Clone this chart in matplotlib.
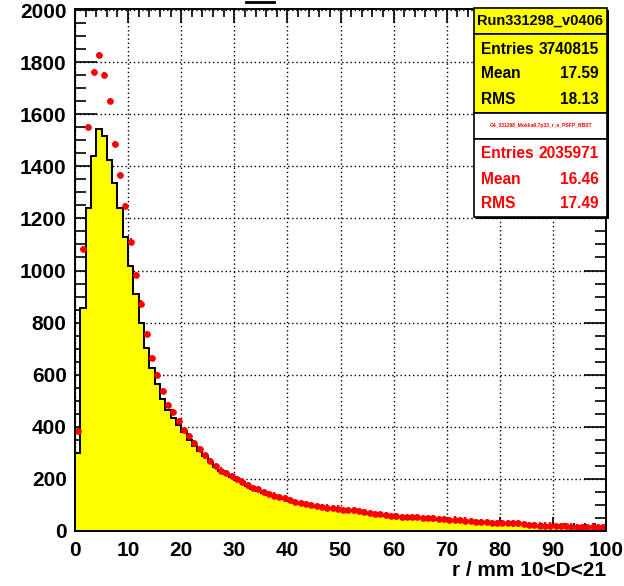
import numpy as np
import matplotlib
matplotlib.use("Agg")
import matplotlib.pyplot as plt
from matplotlib.patches import Rectangle

plt.rcParams['font.family'] = ['Liberation Sans', 'DejaVu Sans']

# r bins of 1 mm from 0 to 100
bin_edges = np.arange(0, 101, 1)

# reference histogram (yellow)
ref_counts = [
    300, 855, 1240, 1440, 1545, 1515, 1425, 1335, 1239, 1128,
    1016, 908, 800, 701, 626, 565, 508, 465, 432, 407,
    381, 349, 326, 307, 288, 264, 247, 231, 219, 207,
    196, 187, 173, 162, 155, 146, 139, 133, 127, 121,
    116, 109, 104, 101, 97, 92, 89, 87, 84, 83,
    79, 78, 76, 74, 70, 66, 64, 62, 59, 57,
    54, 53, 53, 53, 51, 49, 48, 46, 44, 43,
    41, 42, 40, 38, 35, 34, 34, 32, 31, 29,
    30, 29, 28, 27, 26, 22, 21, 20, 20, 20,
    18, 19, 19, 16, 14, 13, 15, 16, 14, 13,
]

# comparison sample (red points)
cmp_counts = [
    384, 1083, 1551, 1761, 1828, 1751, 1651, 1485, 1367, 1249,
    1111, 982, 873, 755, 664, 599, 537, 484, 456, 422,
    388, 366, 339, 315, 290, 270, 250, 232, 224, 211,
    199, 190, 175, 166, 160, 150, 143, 136, 130, 125,
    120, 112, 107, 104, 100, 95, 92, 90, 87, 86,
    82, 81, 79, 77, 73, 69, 66, 64, 61, 59,
    56, 55, 55, 55, 53, 51, 50, 48, 45, 45,
    43, 44, 42, 40, 37, 35, 35, 34, 32, 30,
    32, 30, 29, 29, 27, 23, 22, 21, 21, 21,
    19, 20, 20, 17, 15, 14, 16, 17, 15, 14,
]
cmp_err = 12

x_ticks = [0, 10, 20, 30, 40, 50, 60, 70, 80, 90, 100]
y_ticks = [0, 200, 400, 600, 800, 1000, 1200, 1400, 1600, 1800, 2000]

ref_title = "Run331298_v0406"
ref_stats = [("Entries", "3740815"), ("Mean", "17.59"), ("RMS", "18.13")]
cmp_title = "G4_331298_Mokka6.7p33_r_e_PSFP_BBST"
cmp_stats = [("Entries", "2035971"), ("Mean", "16.46"), ("RMS", "17.49")]

W, H = 624, 586
fig = plt.figure(figsize=(W / 100, H / 100), dpi=100)
ax = fig.add_axes([75 / W, 1 - 531 / H, (606 - 75) / W, (531 - 9) / H])

ax.set_xlim(0, 100)
ax.set_ylim(0, 2004)
ax.set_axisbelow(True)

ax.stairs(ref_counts, bin_edges, baseline=0, fill=True, color='#ffff00',
          zorder=1)
ax.stairs(ref_counts, bin_edges, baseline=0, fill=False, color='black',
          linewidth=1.4, zorder=2)

centers = 0.5 * (bin_edges[:-1] + bin_edges[1:])
ax.errorbar(centers, cmp_counts, yerr=cmp_err, xerr=0.5, fmt='o',
            color='#ff0000', markersize=3.8, elinewidth=1.6, capsize=0,
            zorder=3)

ax.set_xticks(x_ticks)
ax.set_yticks(y_ticks)
ax.set_xticks(np.arange(0, 101, 2), minor=True)
ax.set_yticks(np.arange(0, 2001, 50), minor=True)
ax.grid(True, which='major', color='black', linestyle=(0, (1, 2)),
        linewidth=1.0)
ax.tick_params(which='both', direction='in', top=True, right=True,
               width=1.2, colors='black')
ax.tick_params(axis='x', which='major', length=10, pad=7)
ax.tick_params(axis='x', which='minor', length=6)
ax.tick_params(axis='y', which='major', length=16, pad=6)
ax.tick_params(axis='y', which='minor', length=8)
for lab in ax.get_xticklabels() + ax.get_yticklabels():
    lab.set_fontsize(15)
    lab.set_fontweight('bold')
for sp in ax.spines.values():
    sp.set_linewidth(1.4)
    sp.set_zorder(4)

fig.text(606 / W, 1 - 570 / H, "r / mm 10<D<21", ha='right', va='center',
         fontsize=15, fontweight='bold')

# overlay in pixel units for the stats panels
ov = fig.add_axes([0, 0, 1, 1])
ov.set_xlim(0, W)
ov.set_ylim(H, 0)
ov.axis('off')

ov.plot([246, 274], [2, 2], color='black', linewidth=2)

bx0, bx1 = 474, 607
ov.add_patch(Rectangle((bx0 + 2, 10), bx1 - bx0, 217 - 8, facecolor='black',
                       edgecolor='none', zorder=1))
panels = [(8, 34, '#ffff00'), (34, 113, '#ffff00'), (113, 139, 'white'),
          (139, 217, 'white')]
for y0, y1, fc in panels:
    ov.add_patch(Rectangle((bx0, y0), bx1 - bx0, y1 - y0, facecolor=fc,
                           edgecolor='black', linewidth=1.2, zorder=2))

ov.text((bx0 + bx1) / 2, 21, ref_title, ha='center', va='center',
        fontsize=10.5, fontweight='bold', color='black', zorder=3)
for (name, val), yy in zip(ref_stats, [49, 74, 99]):
    ov.text(481, yy, name, ha='left', va='center', fontsize=11.2,
            fontweight='bold', color='black', zorder=3)
    ov.text(599, yy, val, ha='right', va='center', fontsize=11.2,
            fontweight='bold', color='black', zorder=3)

ov.text((bx0 + bx1) / 2, 125, cmp_title, ha='center', va='center',
        fontsize=3.6, fontweight='bold', color='#ff0000', zorder=3)
for (name, val), yy in zip(cmp_stats, [153, 179, 204]):
    ov.text(481, yy, name, ha='left', va='center', fontsize=11.2,
            fontweight='bold', color='#ff0000', zorder=3)
    ov.text(599, yy, val, ha='right', va='center', fontsize=11.2,
            fontweight='bold', color='#ff0000', zorder=3)

fig.savefig("out.png", dpi=100)
